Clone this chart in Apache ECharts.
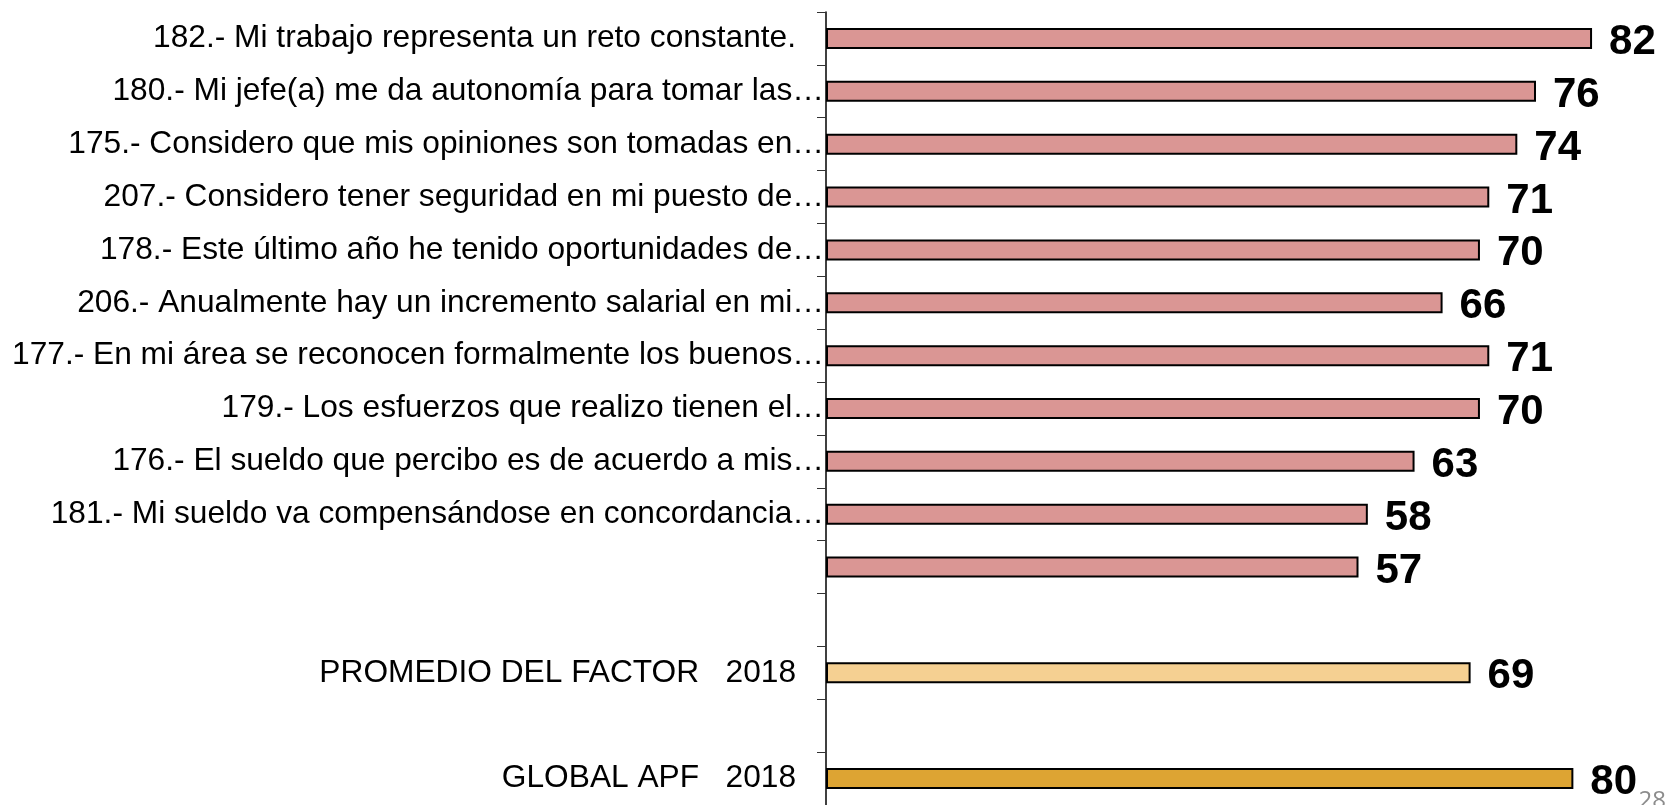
<!DOCTYPE html>
<html>
<head>
<meta charset="utf-8">
<title>Factor</title>
<script src="https://cdn.jsdelivr.net/npm/echarts@6/dist/echarts.min.js"></script>
<style>
	html, body { margin: 0; padding: 0; background: #fff; }
	#chart { width: 1678px; height: 805px; }
</style>
</head>
<body>
<div id="chart"></div>
<script>
// preguntas del factor (de arriba hacia abajo)
var categories = [
	'182.- Mi trabajo representa un reto constante.',
	'180.- Mi jefe(a) me da autonomía para tomar las…',
	'175.- Considero que mis opiniones son tomadas en…',
	'207.- Considero tener seguridad en mi puesto de…',
	'178.- Este último año he tenido oportunidades de…',
	'206.- Anualmente hay un incremento salarial en mi…',
	'177.- En mi área se reconocen formalmente los buenos…',
	'179.- Los esfuerzos que realizo tienen el…',
	'176.- El sueldo que percibo es de acuerdo a mis…',
	'181.- Mi sueldo va compensándose en concordancia…',
	'',
	' ',
	'PROMEDIO DEL FACTOR   2018',
	'  ',
	'GLOBAL APF   2018'
];
var values = [82, 76, 74, 71, 70, 66, 71, 70, 63, 58, 57, '-', 69, '-', 80];
var promedioIndex = 12;
var globalIndex = 14;
var pageNumber = '28';

var chart = echarts.init(document.getElementById('chart'));

var option = {
	animation: false,
	backgroundColor: '#fff',
	grid: {
		left: 826,
		right: 0,
		top: 12,
		bottom: 0
	},
	xAxis: {
		type: 'value',
		min: 0,
		max: 91.2,
		show: false
	},
	yAxis: {
		type: 'category',
		data: categories,
		inverse: true,
		axisLine: { show: true, lineStyle: { color: '#000', width: 1.5 } },
		axisTick: { show: true, length: 9, lineStyle: { color: '#333', width: 1 } },
		axisLabel: {
			margin: 2,
			color: '#000',
			fontFamily: 'Liberation Sans',
			fontSize: 31.7,
			formatter: function (v) {
				if (!v.trim()) return '';
				return v.slice(-1) === '…' ? v : v + '{s|}';
			},
			rich: { s: { width: 28 } }
		}
	},
	series: [{
		type: 'bar',
		data: values,
		barWidth: 21,
		itemStyle: {
			borderColor: '#000',
			borderWidth: 2,
			color: function (p) {
				if (p.dataIndex === promedioIndex) return '#F5D092';
				if (p.dataIndex === globalIndex) return '#DDA433';
				return '#DA9694';
			}
		},
		label: {
			show: true,
			position: 'right',
			distance: 17,
			offset: [0, 4],
			color: '#000',
			fontFamily: 'Liberation Sans',
			fontWeight: 'bold',
			fontSize: 42
		}
	}],
	graphic: [{
		type: 'text',
		right: 12,
		bottom: -8,
		style: {
			text: pageNumber,
			fill: '#8c8c8c',
			font: '24px "Open Sans"'
		}
	}]
};

chart.setOption(option);
</script>
</body>
</html>
